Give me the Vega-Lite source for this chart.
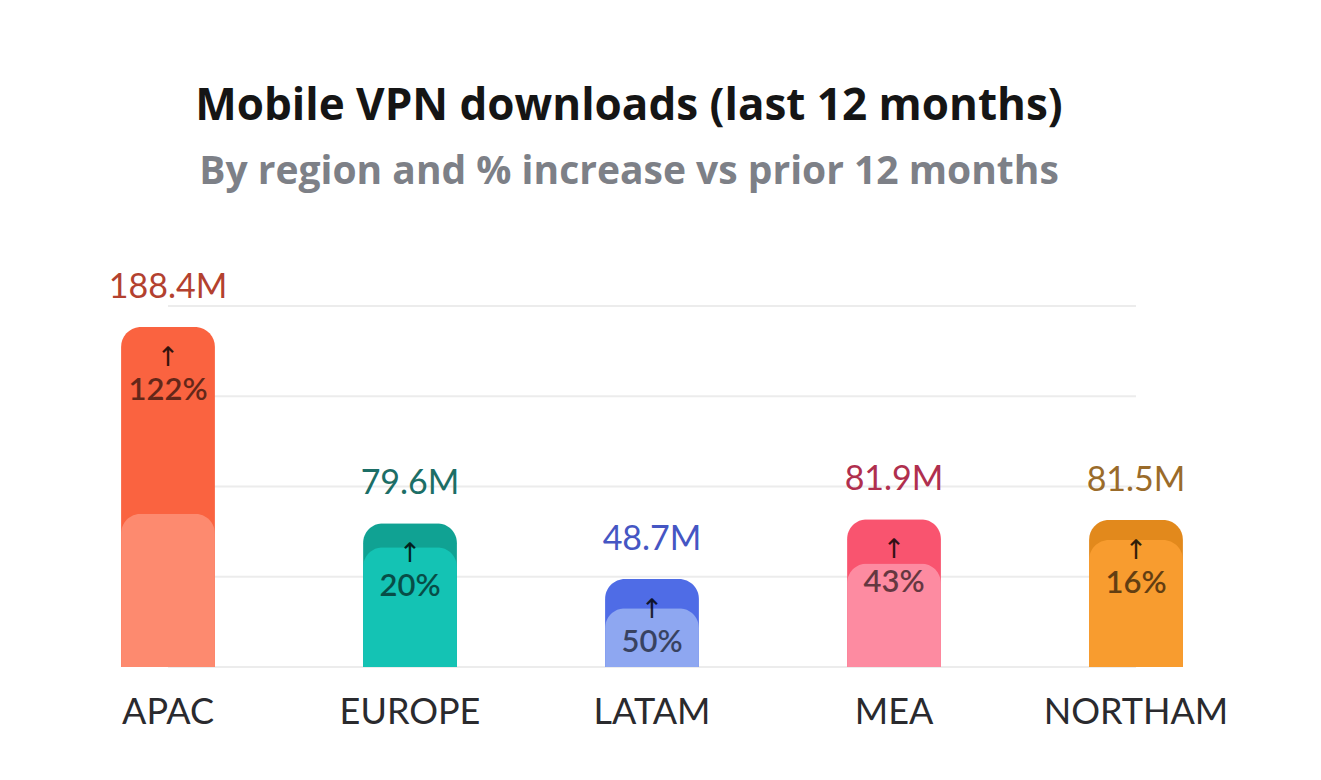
{
  "$schema": "https://vega.github.io/schema/vega-lite/v6.json",
  "autosize": {"type": "none"},
  "padding": {"left": 47, "top": 306, "right": 64, "bottom": 113},
  "width": 1210,
  "height": 361,
  "background": "white",
  "config": {"view": {"stroke": null}, "font": "Lato"},
  "title": {
    "text": "Mobile VPN downloads (last 12 months)",
    "subtitle": "By region and % increase vs prior 12 months",
    "anchor": "middle",
    "dx": -23,
    "offset": 79,
    "font": "Open Sans",
    "fontSize": 44,
    "fontWeight": "bold",
    "color": "#151515",
    "subtitleFont": "Open Sans",
    "subtitleFontSize": 39,
    "subtitleFontWeight": "bold",
    "subtitleColor": "#7d8087",
    "subtitlePadding": 24
  },
  "data": {
    "values": [
      {"region": "APAC", "current": 188.4, "prior": 84.9, "value_label": "188.4M", "pct_label": "122%"},
      {"region": "EUROPE", "current": 79.6, "prior": 66.3, "value_label": "79.6M", "pct_label": "20%"},
      {"region": "LATAM", "current": 48.7, "prior": 32.5, "value_label": "48.7M", "pct_label": "50%"},
      {"region": "MEA", "current": 81.9, "prior": 57.3, "value_label": "81.9M", "pct_label": "43%"},
      {"region": "NORTHAM", "current": 81.5, "prior": 70.3, "value_label": "81.5M", "pct_label": "16%"}
    ]
  },
  "encoding": {
    "x": {
      "field": "region",
      "type": "nominal",
      "sort": ["APAC", "EUROPE", "LATAM", "MEA", "NORTHAM"],
      "scale": {"paddingInner": 0.612, "paddingOuter": 0.306},
      "axis": {
        "title": null,
        "labelAngle": 0,
        "ticks": false,
        "domain": false,
        "labelFont": "Lato",
        "labelFontSize": 36,
        "labelColor": "#2a2a2e",
        "labelPadding": 28,
        "labelLimit": 400
      }
    }
  },
  "layer": [
    {
      "data": {"values": [{"v": 0}, {"v": 50}, {"v": 100}, {"v": 150}, {"v": 200}]},
      "mark": {"type": "rule", "color": "#ececec", "strokeWidth": 2},
      "encoding": {
        "x": {"datum": "APAC", "type": "nominal"},
        "x2": {"datum": "NORTHAM"},
        "y": {"field": "v", "type": "quantitative", "scale": {"domain": [0, 200], "nice": false}, "axis": null}
      }
    },
    {
      "mark": {"type": "bar", "cornerRadiusTopLeft": 20, "cornerRadiusTopRight": 20},
      "encoding": {
        "y": {"field": "current", "type": "quantitative", "scale": {"domain": [0, 200], "nice": false}, "axis": null},
        "color": {
          "field": "region",
          "type": "nominal",
          "scale": {"domain": ["APAC", "EUROPE", "LATAM", "MEA", "NORTHAM"], "range": ["#fa6340", "#10a293", "#4f6ce6", "#f9546f", "#e2891c"]},
          "legend": null
        }
      }
    },
    {
      "mark": {"type": "bar", "cornerRadiusTopLeft": 20, "cornerRadiusTopRight": 20},
      "encoding": {
        "y": {"field": "prior", "type": "quantitative"},
        "fill": {
          "field": "region",
          "type": "nominal",
          "scale": {"domain": ["APAC", "EUROPE", "LATAM", "MEA", "NORTHAM"], "range": ["#fd8a6f", "#14c3b4", "#8ea7f1", "#fd8ba1", "#f89c2f"]},
          "legend": null
        }
      }
    },
    {
      "mark": {"type": "text", "baseline": "alphabetic", "dy": -29, "fontSize": 34, "font": "Lato"},
      "encoding": {
        "y": {"field": "current", "type": "quantitative"},
        "text": {"field": "value_label"},
        "color": {
          "field": "region",
          "type": "nominal",
          "scale": {"domain": ["APAC", "EUROPE", "LATAM", "MEA", "NORTHAM"], "range": ["#b3412f", "#1c6e66", "#4556c3", "#b02f4e", "#9a6b2a"]},
          "legend": null
        }
      }
    },
    {
      "mark": {"type": "text", "text": "↑", "baseline": "middle", "dy": 31, "fontSize": 27, "font": "DejaVu Sans", "color": "#000000", "opacity": 0.8},
      "encoding": {
        "y": {"field": "current", "type": "quantitative"}
      }
    },
    {
      "mark": {"type": "text", "baseline": "middle", "dy": 64, "fontSize": 31, "font": "Lato", "fontWeight": 600, "color": "#000000", "opacity": 0.6},
      "encoding": {
        "y": {"field": "current", "type": "quantitative"},
        "text": {"field": "pct_label"}
      }
    }
  ],
  "resolve": {"scale": {"fill": "independent", "color": "independent"}}
}
